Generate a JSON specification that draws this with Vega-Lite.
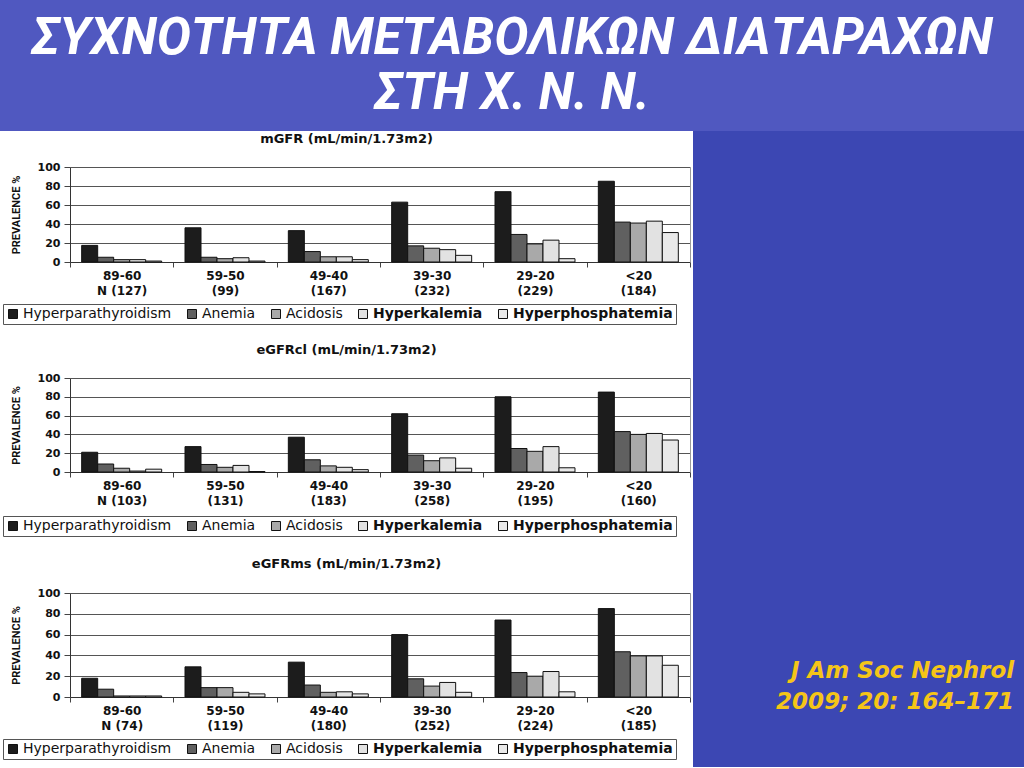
{
  "$schema": "https://vega.github.io/schema/vega-lite/v6.json",
  "padding": {"top": 13, "left": 0, "right": 0, "bottom": 0},
  "background": "#5058c0",
  "title": {
    "text": ["ΣΥΧΝΟΤΗΤΑ ΜΕΤΑΒΟΛΙΚΩΝ ΔΙΑΤΑΡΑΧΩΝ", "ΣΤΗ  Χ. Ν. Ν."],
    "font": "Roboto",
    "fontSize": 51,
    "fontWeight": "bold",
    "fontStyle": "italic",
    "color": "white",
    "anchor": "middle",
    "frame": "bounds",
    "lineHeight": 55,
    "offset": 11
  },
  "config": {
    "view": {"stroke": null, "fill": "white"},
    "font": "DejaVu Sans",
    "axisY": {
      "titleFont": "Roboto",
      "titleFontSize": 11,
      "titleFontWeight": "bold",
      "titleColor": "#111",
      "titlePadding": 16,
      "labelFont": "DejaVu Sans",
      "labelFontWeight": "bold",
      "labelFontSize": 11,
      "labelColor": "#111",
      "labelPadding": 4,
      "grid": true,
      "gridColor": "#555",
      "gridWidth": 1,
      "tickSize": 6,
      "tickColor": "#444",
      "domainColor": "#333"
    },
    "axisX": {
      "title": null,
      "labelAngle": 0,
      "labelFont": "DejaVu Sans",
      "labelFontWeight": "bold",
      "labelFontSize": 12,
      "labelColor": "#111",
      "labelLineHeight": 15,
      "labelPadding": 3,
      "tickBand": "extent",
      "tickSize": 5,
      "tickColor": "#444",
      "domainColor": "#333",
      "grid": false
    },
    "legend": {
      "orient": "none",
      "direction": "horizontal",
      "columns": 5,
      "title": null,
      "labelFont": "DejaVu Sans",
      "labelFontSize": 14,
      "labelColor": "#111",
      "labelOffset": 3,
      "columnPadding": 13,
      "symbolType": "square",
      "symbolSize": 81,
      "symbolStrokeColor": "#111",
      "symbolStrokeWidth": 1,
      "strokeColor": "#555",
      "fillColor": "white",
      "padding": 3
    },
    "title": {
      "font": "DejaVu Sans",
      "fontSize": 13,
      "fontWeight": "bold",
      "color": "#111",
      "anchor": "middle",
      "frame": "bounds"
    }
  },
  "datasets": {
    "cite": [{"t": ["J Am Soc Nephrol", "2009; 20: 164–171"]}],
    "mgfr": [
      {"range": "89-60|N (127)", "disorder": "Hyperparathyroidism", "pct": 17.5},
      {"range": "89-60|N (127)", "disorder": "Anemia", "pct": 5},
      {"range": "89-60|N (127)", "disorder": "Acidosis", "pct": 2.5},
      {"range": "89-60|N (127)", "disorder": "Hyperkalemia", "pct": 2.5},
      {"range": "89-60|N (127)", "disorder": "Hyperphosphatemia", "pct": 1},
      {"range": "59-50|(99)", "disorder": "Hyperparathyroidism", "pct": 36},
      {"range": "59-50|(99)", "disorder": "Anemia", "pct": 5},
      {"range": "59-50|(99)", "disorder": "Acidosis", "pct": 3.5},
      {"range": "59-50|(99)", "disorder": "Hyperkalemia", "pct": 4.5},
      {"range": "59-50|(99)", "disorder": "Hyperphosphatemia", "pct": 1},
      {"range": "49-40|(167)", "disorder": "Hyperparathyroidism", "pct": 33},
      {"range": "49-40|(167)", "disorder": "Anemia", "pct": 11},
      {"range": "49-40|(167)", "disorder": "Acidosis", "pct": 5.5},
      {"range": "49-40|(167)", "disorder": "Hyperkalemia", "pct": 5.5},
      {"range": "49-40|(167)", "disorder": "Hyperphosphatemia", "pct": 2.5},
      {"range": "39-30|(232)", "disorder": "Hyperparathyroidism", "pct": 63},
      {"range": "39-30|(232)", "disorder": "Anemia", "pct": 17},
      {"range": "39-30|(232)", "disorder": "Acidosis", "pct": 14.5},
      {"range": "39-30|(232)", "disorder": "Hyperkalemia", "pct": 13},
      {"range": "39-30|(232)", "disorder": "Hyperphosphatemia", "pct": 7},
      {"range": "29-20|(229)", "disorder": "Hyperparathyroidism", "pct": 74},
      {"range": "29-20|(229)", "disorder": "Anemia", "pct": 29},
      {"range": "29-20|(229)", "disorder": "Acidosis", "pct": 19},
      {"range": "29-20|(229)", "disorder": "Hyperkalemia", "pct": 23},
      {"range": "29-20|(229)", "disorder": "Hyperphosphatemia", "pct": 3.5},
      {"range": "<20|(184)", "disorder": "Hyperparathyroidism", "pct": 85},
      {"range": "<20|(184)", "disorder": "Anemia", "pct": 42},
      {"range": "<20|(184)", "disorder": "Acidosis", "pct": 41},
      {"range": "<20|(184)", "disorder": "Hyperkalemia", "pct": 43},
      {"range": "<20|(184)", "disorder": "Hyperphosphatemia", "pct": 31}
    ],
    "egfrcl": [
      {"range": "89-60|N (103)", "disorder": "Hyperparathyroidism", "pct": 21},
      {"range": "89-60|N (103)", "disorder": "Anemia", "pct": 8.5},
      {"range": "89-60|N (103)", "disorder": "Acidosis", "pct": 4},
      {"range": "89-60|N (103)", "disorder": "Hyperkalemia", "pct": 1},
      {"range": "89-60|N (103)", "disorder": "Hyperphosphatemia", "pct": 3},
      {"range": "59-50|(131)", "disorder": "Hyperparathyroidism", "pct": 27},
      {"range": "59-50|(131)", "disorder": "Anemia", "pct": 8},
      {"range": "59-50|(131)", "disorder": "Acidosis", "pct": 5},
      {"range": "59-50|(131)", "disorder": "Hyperkalemia", "pct": 7},
      {"range": "59-50|(131)", "disorder": "Hyperphosphatemia", "pct": 0.5},
      {"range": "49-40|(183)", "disorder": "Hyperparathyroidism", "pct": 37},
      {"range": "49-40|(183)", "disorder": "Anemia", "pct": 13},
      {"range": "49-40|(183)", "disorder": "Acidosis", "pct": 6.5},
      {"range": "49-40|(183)", "disorder": "Hyperkalemia", "pct": 5},
      {"range": "49-40|(183)", "disorder": "Hyperphosphatemia", "pct": 2.5},
      {"range": "39-30|(258)", "disorder": "Hyperparathyroidism", "pct": 62},
      {"range": "39-30|(258)", "disorder": "Anemia", "pct": 18},
      {"range": "39-30|(258)", "disorder": "Acidosis", "pct": 12},
      {"range": "39-30|(258)", "disorder": "Hyperkalemia", "pct": 15},
      {"range": "39-30|(258)", "disorder": "Hyperphosphatemia", "pct": 4},
      {"range": "29-20|(195)", "disorder": "Hyperparathyroidism", "pct": 80},
      {"range": "29-20|(195)", "disorder": "Anemia", "pct": 25},
      {"range": "29-20|(195)", "disorder": "Acidosis", "pct": 22},
      {"range": "29-20|(195)", "disorder": "Hyperkalemia", "pct": 27},
      {"range": "29-20|(195)", "disorder": "Hyperphosphatemia", "pct": 4.5},
      {"range": "<20|(160)", "disorder": "Hyperparathyroidism", "pct": 85},
      {"range": "<20|(160)", "disorder": "Anemia", "pct": 43},
      {"range": "<20|(160)", "disorder": "Acidosis", "pct": 40},
      {"range": "<20|(160)", "disorder": "Hyperkalemia", "pct": 41},
      {"range": "<20|(160)", "disorder": "Hyperphosphatemia", "pct": 34}
    ],
    "egfrms": [
      {"range": "89-60|N (74)", "disorder": "Hyperparathyroidism", "pct": 18},
      {"range": "89-60|N (74)", "disorder": "Anemia", "pct": 7.5},
      {"range": "89-60|N (74)", "disorder": "Acidosis", "pct": 1},
      {"range": "89-60|N (74)", "disorder": "Hyperkalemia", "pct": 1},
      {"range": "89-60|N (74)", "disorder": "Hyperphosphatemia", "pct": 1},
      {"range": "59-50|(119)", "disorder": "Hyperparathyroidism", "pct": 29},
      {"range": "59-50|(119)", "disorder": "Anemia", "pct": 9},
      {"range": "59-50|(119)", "disorder": "Acidosis", "pct": 9},
      {"range": "59-50|(119)", "disorder": "Hyperkalemia", "pct": 4.5},
      {"range": "59-50|(119)", "disorder": "Hyperphosphatemia", "pct": 3},
      {"range": "49-40|(180)", "disorder": "Hyperparathyroidism", "pct": 33.5},
      {"range": "49-40|(180)", "disorder": "Anemia", "pct": 11.5},
      {"range": "49-40|(180)", "disorder": "Acidosis", "pct": 4.5},
      {"range": "49-40|(180)", "disorder": "Hyperkalemia", "pct": 5},
      {"range": "49-40|(180)", "disorder": "Hyperphosphatemia", "pct": 3},
      {"range": "39-30|(252)", "disorder": "Hyperparathyroidism", "pct": 60},
      {"range": "39-30|(252)", "disorder": "Anemia", "pct": 17.5},
      {"range": "39-30|(252)", "disorder": "Acidosis", "pct": 10.5},
      {"range": "39-30|(252)", "disorder": "Hyperkalemia", "pct": 14},
      {"range": "39-30|(252)", "disorder": "Hyperphosphatemia", "pct": 4.5},
      {"range": "29-20|(224)", "disorder": "Hyperparathyroidism", "pct": 74},
      {"range": "29-20|(224)", "disorder": "Anemia", "pct": 23.5},
      {"range": "29-20|(224)", "disorder": "Acidosis", "pct": 20},
      {"range": "29-20|(224)", "disorder": "Hyperkalemia", "pct": 24.5},
      {"range": "29-20|(224)", "disorder": "Hyperphosphatemia", "pct": 5},
      {"range": "<20|(185)", "disorder": "Hyperparathyroidism", "pct": 85},
      {"range": "<20|(185)", "disorder": "Anemia", "pct": 43.5},
      {"range": "<20|(185)", "disorder": "Acidosis", "pct": 39.5},
      {"range": "<20|(185)", "disorder": "Hyperkalemia", "pct": 39.5},
      {"range": "<20|(185)", "disorder": "Hyperphosphatemia", "pct": 30.5}
    ]
  },
  "spacing": 0,
  "hconcat": [
    {
      "spacing": 0,
      "bounds": "flush",
      "resolve": {"scale": {"color": "independent"}, "legend": {"color": "independent"}},
      "vconcat": [
        {
          "width": 693,
          "height": 212,
          "view": {"fill": "white", "stroke": null},
          "title": {"text": "mGFR (mL/min/1.73m2)", "offset": -15},
          "layer": [
            {
              "data": {"name": "mgfr"},
              "mark": {"type": "bar", "stroke": "#111", "strokeWidth": 1},
              "encoding": {
                "x": {"field": "range", "type": "nominal", "sort": null, "scale": {"range": [70, 690], "paddingInner": 0, "paddingOuter": 0}, "axis": {"labelExpr": "split(datum.label, '|')", "offset": -81}},
                "xOffset": {"field": "disorder", "sort": ["Hyperparathyroidism", "Anemia", "Acidosis", "Hyperkalemia", "Hyperphosphatemia"], "scale": {"paddingInner": 0, "paddingOuter": 0.73}},
                "y": {"field": "pct", "type": "quantitative", "scale": {"domain": [0, 100], "range": [131, 36]}, "axis": {"title": "PREVALENCE %", "values": [0, 20, 40, 60, 80, 100], "offset": -70}},
                "color": {
                  "field": "disorder", "type": "nominal",
                  "scale": {"domain": ["Hyperparathyroidism", "Anemia", "Acidosis", "Hyperkalemia", "Hyperphosphatemia"], "range": ["#1c1c1c", "#606060", "#a9a9a9", "#e2e2e2", "#e9e9e9"]},
                  "legend": {"legendX": 3, "legendY": 173, "encode": {"labels": {"update": {"fontWeight": {"signal": "datum.value === 'Hyperkalemia' || datum.value === 'Hyperphosphatemia' ? 'bold' : 'normal'"}}}}}
                }
              }
            },
            {
              "data": {"values": [{"v": 0}]},
              "mark": {"type": "rule", "strokeOpacity": 0},
              "encoding": {"y": {"datum": 0, "type": "quantitative", "axis": {"orient": "right", "offset": -3, "labels": false, "ticks": false, "grid": false, "title": null, "domainColor": "#9a9a9a"}}}
            }
          ],
          "resolve": {"axis": {"y": "independent"}}
        },
        {
          "width": 693,
          "height": 212,
          "view": {"fill": "white", "stroke": null},
          "title": {"text": "eGFRcl (mL/min/1.73m2)", "offset": -14},
          "layer": [
            {
              "data": {"name": "egfrcl"},
              "mark": {"type": "bar", "stroke": "#111", "strokeWidth": 1},
              "encoding": {
                "x": {"field": "range", "type": "nominal", "sort": null, "scale": {"range": [70, 690], "paddingInner": 0, "paddingOuter": 0}, "axis": {"labelExpr": "split(datum.label, '|')", "offset": -83}},
                "xOffset": {"field": "disorder", "sort": ["Hyperparathyroidism", "Anemia", "Acidosis", "Hyperkalemia", "Hyperphosphatemia"], "scale": {"paddingInner": 0, "paddingOuter": 0.73}},
                "y": {"field": "pct", "type": "quantitative", "scale": {"domain": [0, 100], "range": [129, 35]}, "axis": {"title": "PREVALENCE %", "values": [0, 20, 40, 60, 80, 100], "offset": -70}},
                "color": {
                  "field": "disorder", "type": "nominal",
                  "scale": {"domain": ["Hyperparathyroidism", "Anemia", "Acidosis", "Hyperkalemia", "Hyperphosphatemia"], "range": ["#1c1c1c", "#606060", "#a9a9a9", "#e2e2e2", "#e9e9e9"]},
                  "legend": {"legendX": 3, "legendY": 173, "encode": {"labels": {"update": {"fontWeight": {"signal": "datum.value === 'Hyperkalemia' || datum.value === 'Hyperphosphatemia' ? 'bold' : 'normal'"}}}}}
                }
              }
            },
            {
              "data": {"values": [{"v": 0}]},
              "mark": {"type": "rule", "strokeOpacity": 0},
              "encoding": {"y": {"datum": 0, "type": "quantitative", "axis": {"orient": "right", "offset": -3, "labels": false, "ticks": false, "grid": false, "title": null, "domainColor": "#9a9a9a"}}}
            }
          ],
          "resolve": {"axis": {"y": "independent"}}
        },
        {
          "width": 693,
          "height": 212,
          "view": {"fill": "white", "stroke": null},
          "title": {"text": "eGFRms (mL/min/1.73m2)", "offset": -16},
          "layer": [
            {
              "data": {"name": "egfrms"},
              "mark": {"type": "bar", "stroke": "#111", "strokeWidth": 1},
              "encoding": {
                "x": {"field": "range", "type": "nominal", "sort": null, "scale": {"range": [70, 690], "paddingInner": 0, "paddingOuter": 0}, "axis": {"labelExpr": "split(datum.label, '|')", "offset": -70}},
                "xOffset": {"field": "disorder", "sort": ["Hyperparathyroidism", "Anemia", "Acidosis", "Hyperkalemia", "Hyperphosphatemia"], "scale": {"paddingInner": 0, "paddingOuter": 0.73}},
                "y": {"field": "pct", "type": "quantitative", "scale": {"domain": [0, 100], "range": [142, 38]}, "axis": {"title": "PREVALENCE %", "values": [0, 20, 40, 60, 80, 100], "offset": -70}},
                "color": {
                  "field": "disorder", "type": "nominal",
                  "scale": {"domain": ["Hyperparathyroidism", "Anemia", "Acidosis", "Hyperkalemia", "Hyperphosphatemia"], "range": ["#1c1c1c", "#606060", "#a9a9a9", "#e2e2e2", "#e9e9e9"]},
                  "legend": {"legendX": 3, "legendY": 184, "encode": {"labels": {"update": {"fontWeight": {"signal": "datum.value === 'Hyperkalemia' || datum.value === 'Hyperphosphatemia' ? 'bold' : 'normal'"}}}}}
                }
              }
            },
            {
              "data": {"values": [{"v": 0}]},
              "mark": {"type": "rule", "strokeOpacity": 0},
              "encoding": {"y": {"datum": 0, "type": "quantitative", "axis": {"orient": "right", "offset": -3, "labels": false, "ticks": false, "grid": false, "title": null, "domainColor": "#9a9a9a"}}}
            }
          ],
          "resolve": {"axis": {"y": "independent"}}
        }
      ]
    },
    {
      "width": 331,
      "height": 636,
      "view": {"fill": "#3c47b3", "stroke": null},
      "data": {"name": "cite"},
      "mark": {
        "type": "text",
        "font": "DejaVu Sans",
        "fontSize": 23,
        "fontWeight": "bold",
        "fontStyle": "italic",
        "color": "#f5c518",
        "align": "right",
        "baseline": "middle",
        "lineHeight": 31
      },
      "encoding": {
        "text": {"field": "t"},
        "x": {"datum": 0.97, "type": "quantitative", "scale": {"domain": [0, 1]}, "axis": null},
        "y": {"datum": 0.151, "type": "quantitative", "scale": {"domain": [0, 1]}, "axis": null}
      }
    }
  ]
}
